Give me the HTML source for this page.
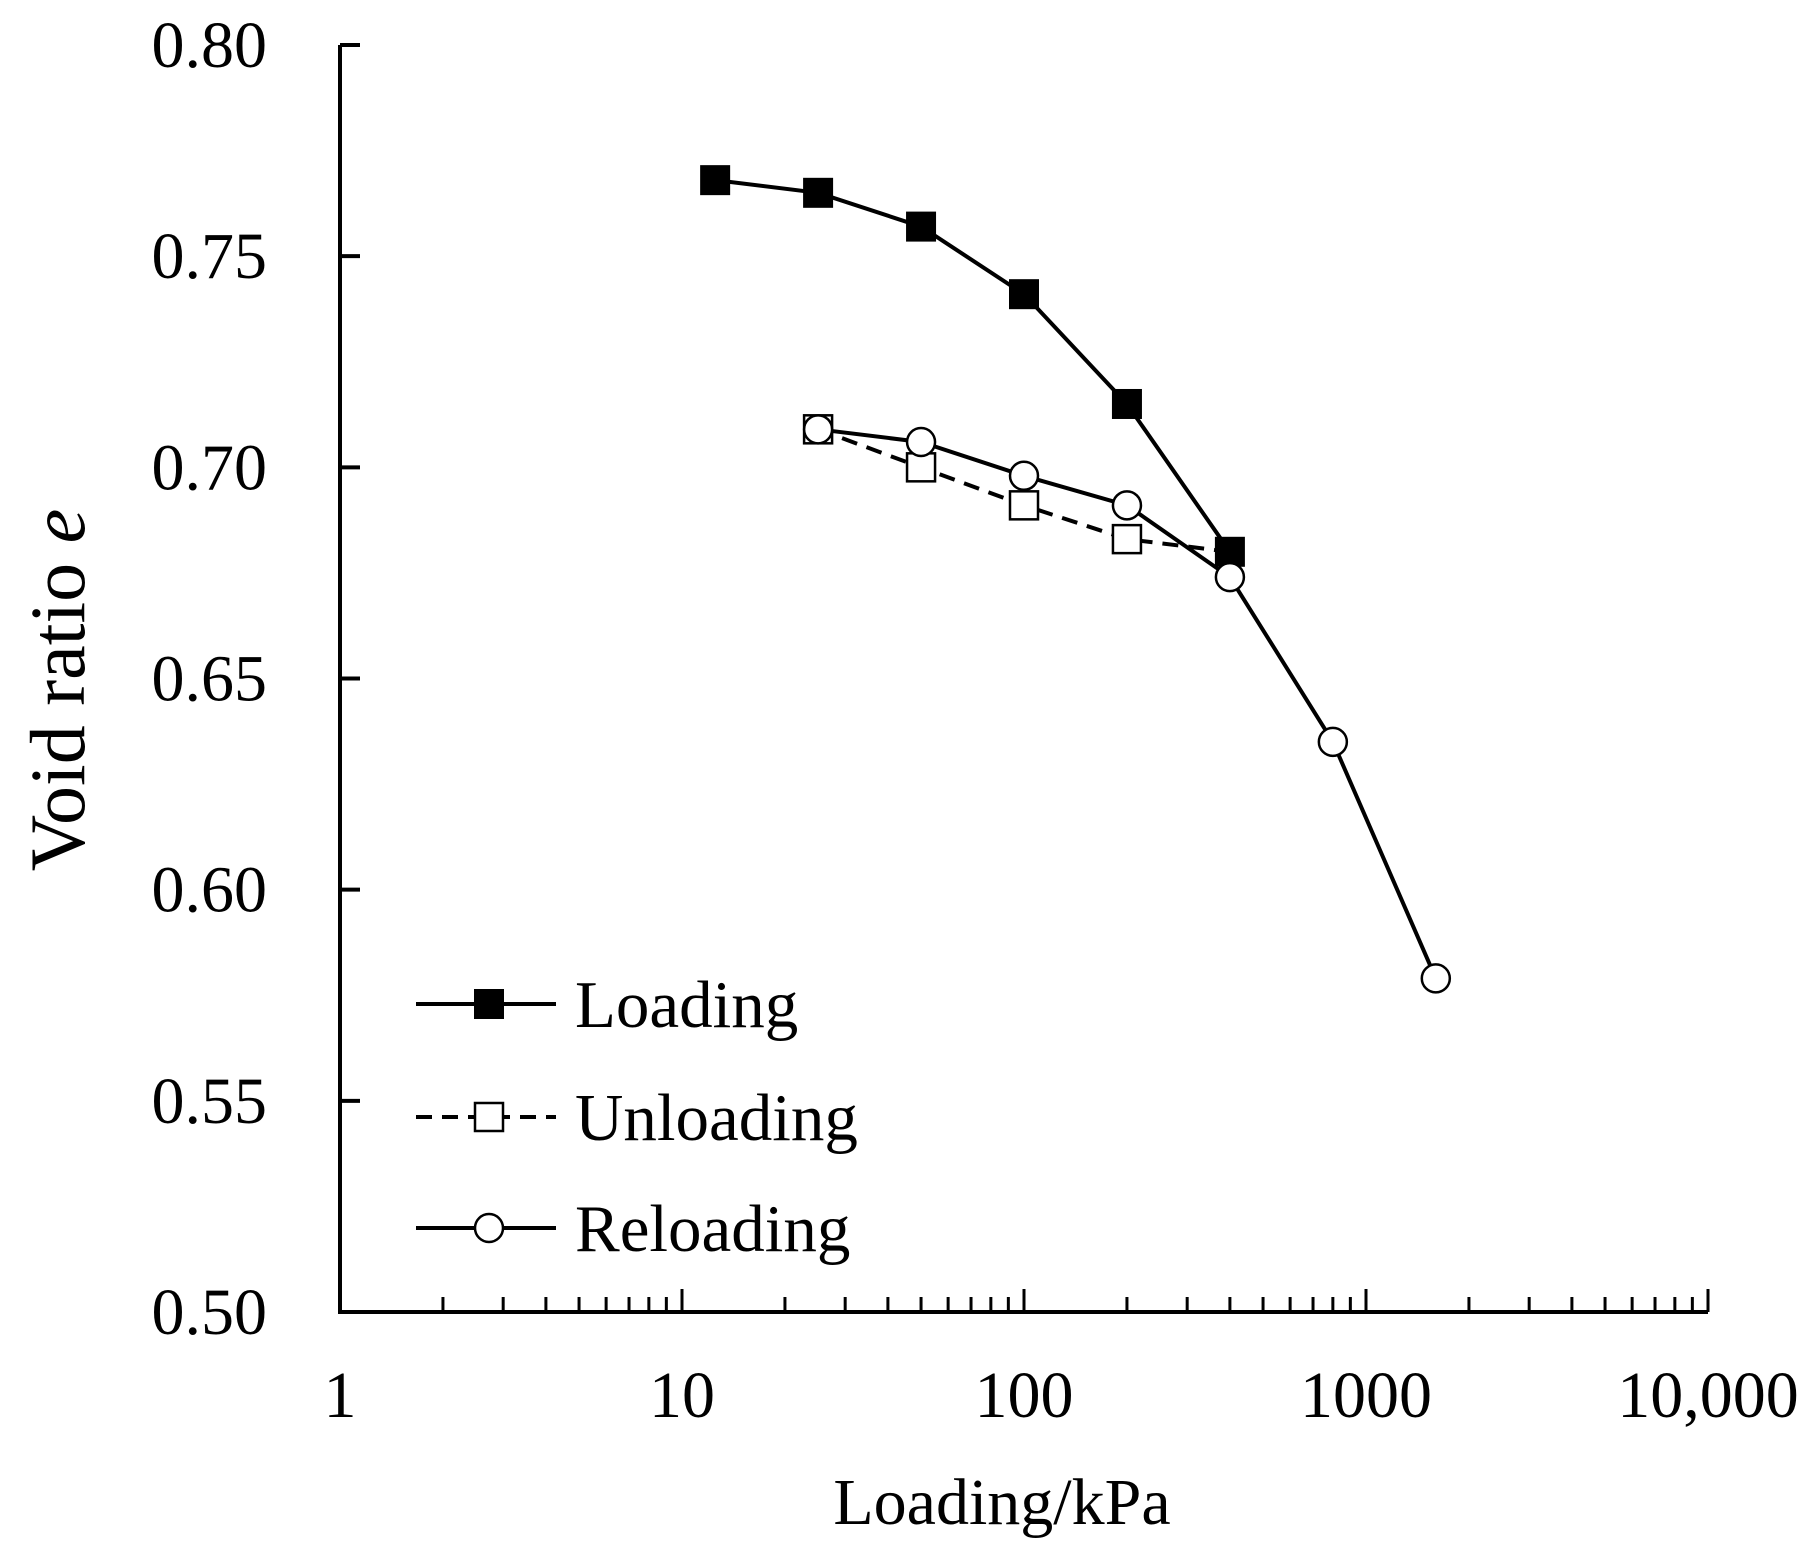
<!DOCTYPE html>
<html><head><meta charset="utf-8"><style>
html,body{margin:0;padding:0;background:#fff;}
svg{display:block;font-family:"Liberation Serif",serif;}
</style></head><body>
<svg id="chart" width="1813" height="1545" viewBox="0 0 1813 1545">
<g id="axes"></g>
<g id="series"></g>
<g id="legend"></g>
<text transform="translate(84,690) rotate(-90)" text-anchor="middle" font-size="78">Void ratio <tspan font-style="italic">e</tspan></text>
<text x="1002" y="1524" text-anchor="middle" font-size="66">Loading/kPa</text>
</svg>
<script>
const loadX=[12.5,25,50,100,200,400];
const loadY=[0.768,0.765,0.757,0.741,0.715,0.680];
const unloadX=[400,200,100,50,25];
const unloadY=[0.680,0.683,0.691,0.700,0.709];
const reloadX=[25,50,100,200,400,800,1600];
const reloadY=[0.709,0.706,0.698,0.691,0.674,0.635,0.579];
const yTicks=[0.50,0.55,0.60,0.65,0.70,0.75,0.80];
const yTickLabels=["0.50","0.55","0.60","0.65","0.70","0.75","0.80"];
const xTicks=[1,10,100,1000,10000];
const xTickLabels=["1","10","100","1000","10,000"];

const NS="http://www.w3.org/2000/svg";
const X0=340,DEC=342,Y0=1312,YT=45;
function sx(v){return X0+Math.log10(v)*DEC;}
function sy(v){return Y0-(v-0.5)/0.3*(Y0-YT);}
function mk(tag,attrs,parent){const e=document.createElementNS(NS,tag);for(const k in attrs)e.setAttribute(k,attrs[k]);parent.appendChild(e);return e;}
const axes=document.getElementById('axes');
let p=mk('path',{d:`M${X0},${YT} V${Y0} H${sx(10000)}`,fill:'none',stroke:'#000','stroke-width':4},axes);


yTicks.forEach((v,i)=>{
  let t=mk('line',{x1:X0,x2:X0+20,y1:sy(v),y2:sy(v),stroke:'#000','stroke-width':4},axes);
  
  
  let l=mk('text',{x:267,y:sy(v)+22,'text-anchor':'end','font-size':66},axes);
  l.textContent=yTickLabels[i];
  
  
});
for(let d=0;d<4;d++){
  for(let m=2;m<=10;m++){
    const v=Math.pow(10,d)*m;const x=sx(v);
    let t=mk('line',{x1:x,x2:x,y1:Y0,y2:Y0-(m==10?23:15),stroke:'#000','stroke-width':3},axes);
    
    
  }
}
xTicks.forEach((v,i)=>{
  let l=mk('text',{x:sx(v),y:1417,'text-anchor':'middle','font-size':66},axes);
  l.textContent=xTickLabels[i];
  
  
});
const ser=document.getElementById('series');
function line(xs,ys,dash,name){
  let e=mk('polyline',{points:xs.map((x,i)=>sx(x)+','+sy(ys[i])).join(' '),fill:'none',stroke:'#000','stroke-width':4},ser);
  if(dash)e.setAttribute('stroke-dasharray','16,10');
  
  
}
function sq(x,y,fill,parent,name){
  let e=mk('rect',{x:x-14,y:y-14,width:28,height:28,fill:fill,stroke:'#000','stroke-width':fill=='#000'?2:2.5},parent);
  
  
}
function ci(x,y,parent,name){
  let e=mk('circle',{cx:x,cy:y,r:14,fill:'#fff',stroke:'#000','stroke-width':2.5},parent);
  
  
}
line(unloadX,unloadY,true,'unloading-line');
line(loadX,loadY,false,'loading-line');
line(reloadX,reloadY,false,'reloading-line');
loadX.forEach((x,i)=>sq(sx(x),sy(loadY[i]),'#000',ser,'loading-point'));
unloadX.forEach((x,i)=>{if(x!==400)sq(sx(x),sy(unloadY[i]),'#fff',ser,'unloading-point');});
reloadX.forEach((x,i)=>ci(sx(x),sy(reloadY[i]),ser,'reloading-point'));
const lg=document.getElementById('legend');
[['Loading',1004,'sq-f',false],['Unloading',1117,'sq-o',true],['Reloading',1228,'ci',false]].forEach(([lab,y,m,dash])=>{
  let l=mk('line',{x1:416,x2:556,y1:y,y2:y,stroke:'#000','stroke-width':4},lg);
  if(dash)l.setAttribute('stroke-dasharray','16,10');
  
  
  if(m=='sq-f')sq(489,y,'#000',lg,'legend-marker');
  else if(m=='sq-o')sq(489,y,'#fff',lg,'legend-marker');
  else ci(489,y,lg,'legend-marker');
  let t=mk('text',{x:575,y:y+23,'font-size':67},lg);
  t.textContent=lab;
  
  
});
</script>
</body></html>
